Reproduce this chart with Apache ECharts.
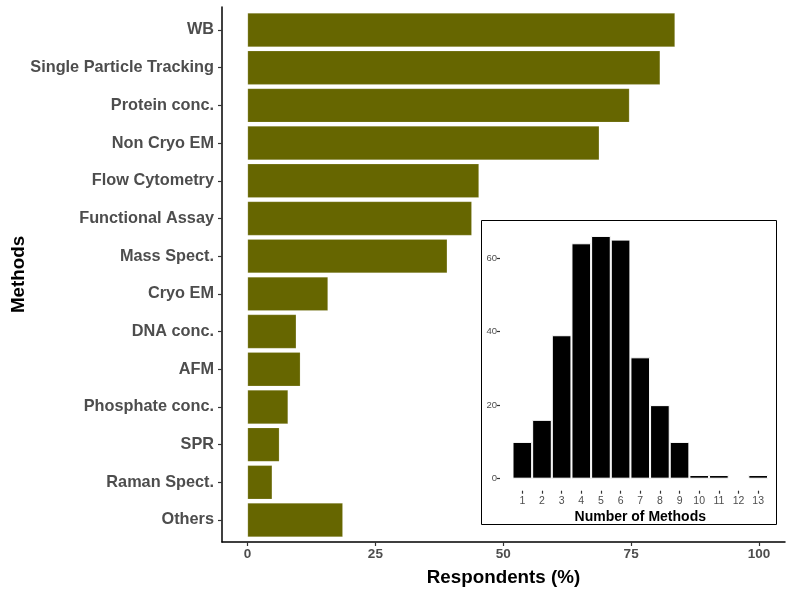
<!DOCTYPE html>
<html>
<head>
<meta charset="utf-8">
<script src="https://cdn.jsdelivr.net/npm/echarts@6/dist/echarts.min.js"></script>
<style>html,body{margin:0;padding:0;background:#fff}#c{width:797px;height:593px}</style>
</head>
<body>
<div id="c"></div>
<script>
const methods = ["WB","Single Particle Tracking","Protein conc.","Non Cryo EM","Flow Cytometry","Functional Assay","Mass Spect.","Cryo EM","DNA conc.","AFM","Phosphate conc.","SPR","Raman Spect.","Others"];
const respondents = [83.5,80.6,74.6,68.7,45.2,43.8,39.0,15.7,9.5,10.3,7.9,6.2,4.8,18.6];
const xTicks = [0,25,50,75,100];
const numMethods = ["1","2","3","4","5","6","7","8","9","10","11","12","13"];
const numCounts = [10,16,39,64,66,65,33,20,10,1,1,0,1];

const chart = echarts.init(document.getElementById('c'), null, {renderer:'canvas'});
const gray = '#4d4d4d';
const font = 'Liberation Sans, Arial, sans-serif';
const g = (o) => Object.assign({containLabel:false,outerBoundsMode:'none'}, o);
chart.setOption({
  animation:false,
  textStyle:{fontFamily:font},
  grid:[
    g({left:222,right:12,top:7,bottom:51}),
    g({left:222,right:12,top:11.15,bottom:54.15}),
    g({left:247.5,right:38,top:7,bottom:51}),
    g({left:512.5,right:29,top:258,bottom:114.3})
  ],
  xAxis:[
    {gridIndex:0,type:'value',min:-5,max:105,axisLine:{show:true,onZero:false,lineStyle:{color:'#000',width:1.5}},axisTick:{show:false},axisLabel:{show:false},splitLine:{show:false},
     name:'Respondents (%)',nameLocation:'middle',nameGap:26,nameTextStyle:{fontSize:18.8,fontWeight:'bold',color:'#000',fontFamily:font}},
    {gridIndex:1,type:'value',min:-5,max:105,show:false,axisLine:{onZero:false}},
    {gridIndex:2,type:'value',min:0,max:100,interval:25,axisLine:{show:false,onZero:false},axisTick:{show:true,length:4,lineStyle:{color:'#333',width:1.2}},
     axisLabel:{show:true,fontSize:13.5,fontWeight:'bold',color:gray,margin:5,formatter:v=>xTicks.includes(v)?String(v):''},splitLine:{show:false}},
    {gridIndex:3,type:'category',data:numMethods,offset:12,z:10,axisLine:{show:false,onZero:false},axisTick:{show:true,alignWithLabel:true,length:3,lineStyle:{color:'#333',width:1.2}},
     axisLabel:{fontSize:10.5,color:gray,margin:5},
     name:'Number of Methods',nameLocation:'middle',nameGap:19,nameTextStyle:{fontSize:14,fontWeight:'bold',color:'#000',fontFamily:font}}
  ],
  yAxis:[
    {gridIndex:0,type:'value',min:0,max:1,axisLine:{show:true,onZero:false,lineStyle:{color:'#000',width:1.5}},axisTick:{show:false},axisLabel:{show:false},splitLine:{show:false},
     name:'Methods',nameLocation:'middle',nameGap:194,nameRotate:90,nameTextStyle:{fontSize:18.8,fontWeight:'bold',color:'#000',fontFamily:font}},
    {gridIndex:1,type:'category',data:methods,inverse:true,axisLine:{show:false,onZero:false},axisTick:{show:true,alignWithLabel:true,length:4,lineStyle:{color:'#333',width:1.2}},
     axisLabel:{fontSize:16.3,fontWeight:'bold',color:gray,margin:8}},
    {gridIndex:2,type:'value',show:false,axisLine:{onZero:false}},
    {gridIndex:3,type:'value',min:0,max:60,interval:20,offset:12.5,z:10,axisLine:{show:false,onZero:false},axisTick:{show:true,length:3,lineStyle:{color:'#333',width:1.2}},
     axisLabel:{fontSize:9.5,color:gray,margin:3},splitLine:{show:false}}
  ],
  graphic:[
    {type:'rect',z:5,shape:{x:481.5,y:220.5,width:295,height:304},style:{fill:'#fff',stroke:'#000',lineWidth:1}}
  ],
  series:[
    {type:'bar',xAxisIndex:1,yAxisIndex:1,data:respondents,barWidth:'90%',z:2,
     itemStyle:{color:'#666600',borderColor:'rgba(255,255,255,0.35)',borderWidth:0.5}},
    {type:'bar',xAxisIndex:3,yAxisIndex:3,data:numCounts,barWidth:'100%',z:10,clip:false,
     itemStyle:{color:'#000',borderColor:'#fff',borderWidth:1}}
  ]
});
</script>
</body>
</html>
